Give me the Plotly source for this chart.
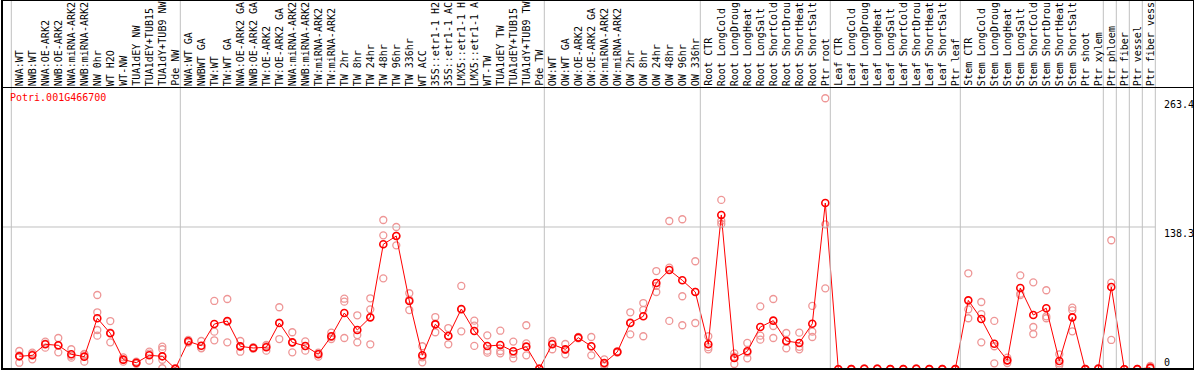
import plotly.graph_objects as go

gene = "Potri.001G466700"

# category labels as they are shown (the chart clips them to 14 characters)
categories = [
    "NWA:WT", "NWB:WT", "NWA:OE-ARK2", "NWB:OE-ARK2", "NWA:miRNA-ARK2", "NWB:miRNA-ARK2",
    "NW 0hr", "WT H2O", "WT-NW", "TUA1dEY NW", "TUA1dEY+TUB15", "TUA1dY+TUB9 NW", "Pde NW",
    "NWA:WT GA", "NWBWT GA", "TW:WT", "TW:WT GA", "NWA:OE-ARK2 GA", "NWB:OE-ARK2 GA",
    "TW:OE-ARK2", "TW:OE-ARK2 GA", "NWA:miRNA-ARK2", "NWB:miRNA-ARK2", "TW:miRNA-ARK2",
    "TW:miRNA-ARK2", "TW 2hr", "TW 8hr", "TW 24hr", "TW 48hr", "TW 96hr", "TW 336hr",
    "WT ACC", "35S::etr1-1 H2", "35S::etr1-1 AC", "LMX5::etr1-1 H", "LMX5::etr1-1 A",
    "WT-TW", "TUA1dEY TW", "TUA1dEY+TUB15", "TUA1dY+TUB9 TW", "Pde TW",
    "OW:WT", "OW:WT GA", "OW:OE-ARK2", "OW:OE-ARK2 GA", "OW:miRNA-ARK2", "OW:miRNA-ARK2",
    "OW 2hr", "OW 8hr", "OW 24hr", "OW 48hr", "OW 96hr", "OW 336hr",
    "Root CTR", "Root LongCold", "Root LongDroug", "Root LongHeat", "Root LongSalt",
    "Root ShortCold", "Root ShortDrou", "Root ShortHeat", "Root ShortSalt", "Ptr root",
    "Leaf CTR", "Leaf LongCold", "Leaf LongDroug", "Leaf LongHeat", "Leaf LongSalt",
    "Leaf ShortCold", "Leaf ShortDrou", "Leaf ShortHeat", "Leaf ShortSalt", "Ptr leaf",
    "Stem CTR", "Stem LongCold", "Stem LongDroug", "Stem LongHeat", "Stem LongSalt",
    "Stem ShortCold", "Stem ShortDrou", "Stem ShortHeat", "Stem ShortSalt",
    "Ptr shoot", "Ptr xylem", "Ptr phloem", "Ptr fiber", "Ptr vessel", "Ptr fiber vess",
]

# first category index of each separated block (last entry = end)
group_starts = [0, 13, 41, 53, 63, 73, 84, 85, 86, 87, 88]

means = [
    12.6, 13.6, 24.3, 23.3, 14.6, 12.3, 49.6, 35.0, 9.4, 6.4, 13.6, 12.6, 0.6,
    27.2, 22.9, 44.0, 46.9, 22.3, 20.7, 21.4, 45.0, 26.2, 22.6, 14.6, 32.1, 54.7,
    38.2, 50.5, 121.5, 129.5, 66.4, 13.6, 43.7, 32.4, 58.6, 37.2, 22.6, 23.6, 17.5,
    22.0, 0.6,
    24.3, 19.4, 30.8, 22.4, 6.1, 16.9, 45.0, 51.5, 83.9, 96.5, 86.5, 75.1,
    24.3, 150.0, 11.0, 17.5, 41.1, 47.3, 27.5, 25.6, 44.3, 161.6,
    0.0, 0.2, 0.5, 0.5, 0.2, 0.2, 0.5, 0.2, 0.2, 0.2,
    67.0, 48.9, 24.9, 8.7, 79.0, 52.8, 59.3, 8.1, 50.5, 0.2, 0.6, 80.0, 0.1, 0.2, 1.6,
]

rep1 = [
    17.8, 16.2, 26.8, 30.4, 19.5, 14.9, 72.2, 46.9, 11.6, 7.5, 17.1, 22.0, 1.0,
    28.5, 27.5, 66.4, 68.3, 27.5, 21.5, 23.6, 60.3, 36.0, 27.2, 16.2, 35.6, 68.6,
    52.5, 69.0, 145.1, 138.3, 73.9, 22.4, 50.8, 40.1, 81.0, 47.3, 33.0, 37.5, 26.9,
    42.8, 0.8,
    27.5, 24.6, 31.5, 31.4, 9.7, 17.5, 55.4, 64.4, 95.5, 144.1, 145.8, 105.0,
    32.1, 164.6, 15.5, 25.6, 61.2, 68.3, 35.3, 35.6, 61.6, 263.4,
    0.3, 0.5, 0.8, 0.8, 0.4, 0.3, 0.8, 0.3, 0.3, 0.4,
    93.3, 65.4, 47.0, 11.3, 91.3, 84.5, 76.8, 14.6, 59.9, 0.3, 1.0, 125.4, 0.2, 0.3, 3.3,
]

rep2 = [
    13.5, 14.8, 25.0, 23.0, 13.0, 14.5, 55.4, 35.5, 9.2, 6.4, 15.3, 19.5, 0.5,
    27.2, 20.8, 36.6, 46.2, 22.3, 20.7, 22.5, 45.3, 26.2, 22.6, 15.3, 31.3, 65.7,
    33.3, 58.3, 130.2, 129.7, 67.6, 11.6, 44.3, 32.8, 57.9, 42.4, 18.1, 17.8, 14.9,
    25.2, 0.5,
    25.0, 19.0, 30.8, 22.2, 5.0, 16.9, 45.6, 57.7, 81.0, 98.8, 71.0, 75.3,
    21.5, 144.2, 12.3, 16.2, 32.7, 42.1, 26.8, 21.8, 36.6, 140.9,
    0.1, 0.1, 0.5, 0.5, 0.2, 0.2, 0.5, 0.2, 0.2, 0.2,
    58.3, 53.7, 22.4, 8.7, 73.5, 41.1, 51.5, 5.8, 57.3, 0.2, 0.5, 84.2, 0.1, 0.1, 1.0,
]

rep3 = [
    6.4, 9.7, 21.0, 16.5, 11.3, 7.4, 38.2, 26.2, 7.4, 5.4, 8.4, 9.3, 0.2,
    26.0, 20.4, 28.2, 26.2, 17.1, 20.0, 18.1, 29.4, 16.5, 18.1, 12.3, 29.4, 30.4,
    26.2, 24.3, 88.4, 120.5, 57.6, 6.8, 36.0, 24.3, 36.9, 22.7, 16.2, 15.5, 10.7,
    13.6, 0.3,
    19.5, 14.6, 30.0, 13.6, 3.5, 16.2, 34.0, 32.1, 75.1, 47.0, 42.8, 45.0,
    19.4, 141.2, 5.2, 10.7, 28.8, 30.4, 20.4, 19.4, 31.4, 78.7,
    0.0, 0.0, 0.2, 0.2, 0.0, 0.1, 0.2, 0.1, 0.0, 0.0,
    49.6, 26.2, 5.8, 6.1, 72.2, 34.3, 49.6, 3.9, 36.9, 0.0, 0.3, 28.5, 0.0, 0.0, 0.5,
]

rep4 = [None] * 88
rep4[6] = 32.7
rep4[11] = 1.0

W, H = 1194, 370
X0_PX, STEP_PX = 19.3, 13.0       # pixel of first category, category spacing
Y0_PX, SCALE_PX = 369.3, 1.029     # pixel of value 0, pixels per unit

def px_x(p):
    return p / W

def px_y(p):
    return 1 - p / H

xs = list(range(len(categories)))

fig = go.Figure()

rep_color = "rgb(238,150,150)"
for reps in (rep1, rep2, rep3, rep4):
    fig.add_trace(go.Scatter(
        x=xs, y=reps, mode="markers",
        marker=dict(symbol="circle-open", size=7, color=rep_color, line=dict(width=1.3, color=rep_color)),
        hoverinfo="skip", showlegend=False,
    ))

fig.add_trace(go.Scatter(
    x=xs, y=means, mode="lines+markers",
    line=dict(color="#ff0000", width=1),
    marker=dict(symbol="circle-open", size=7, color="#ff0000", line=dict(width=1.6, color="#ff0000")),
    showlegend=False,
))

shapes = []
grid = "#c0c0c0"
for g in group_starts:
    xv = g - 8.0 / STEP_PX
    shapes.append(dict(type="line", xref="x", yref="paper", x0=xv, x1=xv,
                       y0=px_y(369), y1=1, line=dict(color=grid, width=1)))
# horizontal grid at 138.3
shapes.append(dict(type="line", xref="paper", yref="y", x0=px_x(2), x1=px_x(1155.3),
                   y0=138.3, y1=138.3, line=dict(color=grid, width=1)))
# frame
blk = "#000000"
shapes.append(dict(type="line", xref="paper", yref="paper", x0=px_x(2), x1=px_x(2),
                   y0=px_y(0), y1=px_y(370), line=dict(color=blk, width=2)))
shapes.append(dict(type="line", xref="paper", yref="paper", x0=px_x(1), x1=px_x(1193.5),
                   y0=px_y(369), y1=px_y(369), line=dict(color=blk, width=2)))
shapes.append(dict(type="line", xref="paper", yref="paper", x0=px_x(1193.5), x1=px_x(1193.5),
                   y0=px_y(0), y1=px_y(370), line=dict(color=blk, width=1)))
shapes.append(dict(type="line", xref="paper", yref="paper", x0=px_x(1), x1=px_x(1194),
                   y0=px_y(0.5), y1=px_y(0.5), line=dict(color=blk, width=1)))
shapes.append(dict(type="line", xref="paper", yref="paper", x0=px_x(1), x1=px_x(1194),
                   y0=px_y(87.5), y1=px_y(87.5), line=dict(color=blk, width=1)))

font = "DejaVu Sans Mono"
annotations = []
for i, name in enumerate(categories):
    annotations.append(dict(
        x=i, xref="x", y=px_y(86), yref="paper", text=name, textangle=-90,
        showarrow=False, xanchor="center", yanchor="bottom", borderpad=0, borderwidth=0,
        font=dict(family=font, size=10, color="#000000"),
    ))

annotations.append(dict(x=px_x(9), xref="paper", y=px_y(97), yref="paper", text=gene,
                        showarrow=False, xanchor="left", yanchor="middle", borderpad=0,
                        font=dict(family=font, size=10, color="#ff0000")))

tick_vals = [263.4, 138.3, 0]
tick_text = ["263.4", "138.3", "0"]
for v, t in zip(tick_vals, tick_text):
    annotations.append(dict(x=px_x(1163), xref="paper", y=v, yref="y", text=t,
                            showarrow=False, xanchor="left",
                            yanchor="bottom" if v == 0 else "top", borderpad=0,
                            font=dict(family=font, size=10, color="#000000")))

x_range = [-X0_PX / STEP_PX, (W - X0_PX) / STEP_PX]
y_range = [(Y0_PX - H) / SCALE_PX, Y0_PX / SCALE_PX]

fig.update_layout(
    width=W, height=H, autosize=False,
    margin=dict(l=0, r=0, t=0, b=0, pad=0),
    paper_bgcolor="white", plot_bgcolor="white",
    xaxis=dict(range=x_range, visible=False, showgrid=False, zeroline=False, fixedrange=True),
    yaxis=dict(range=y_range, visible=False, showgrid=False, zeroline=False, fixedrange=True),
    shapes=shapes, annotations=annotations,
    showlegend=False,
)

fig.write_html("out.html", config={"displayModeBar": False},
               post_script="document.body.style.margin='0';document.body.style.overflow='hidden';")
